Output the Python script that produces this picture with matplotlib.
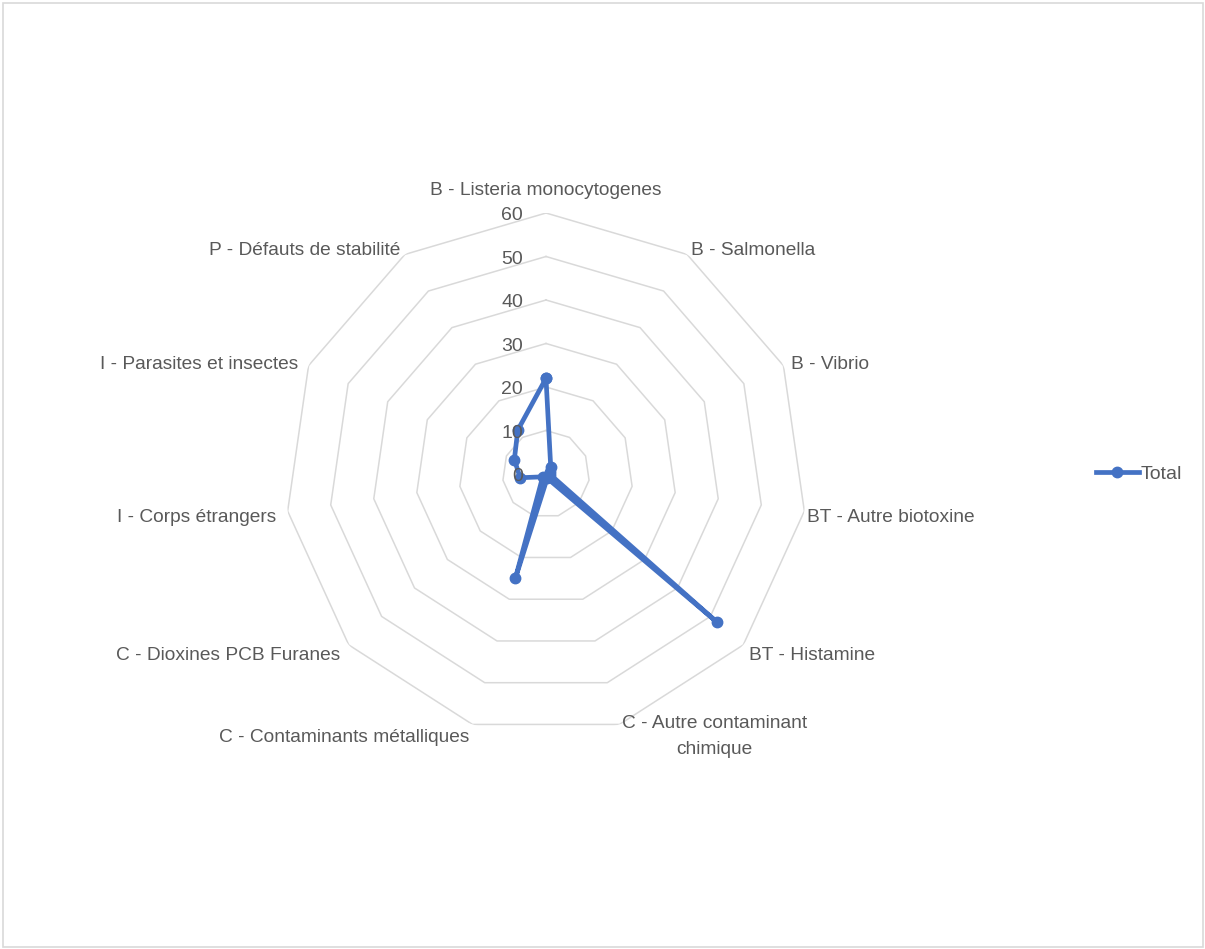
import numpy as np
import matplotlib
matplotlib.use("Agg")
import matplotlib.pyplot as plt
from matplotlib.patches import Rectangle

categories = [
    "B - Listeria monocytogenes",
    "B - Salmonella",
    "B - Vibrio",
    "BT - Autre biotoxine",
    "BT - Histamine",
    "C - Autre contaminant\nchimique",
    "C - Contaminants métalliques",
    "C - Dioxines PCB Furanes",
    "I - Corps étrangers",
    "I - Parasites et insectes",
    "P - Défauts de stabilité",
]
total = [22, 2, 1, 1, 52, 1, 25, 1, 6, 8, 12]
ring_values = [0, 10, 20, 30, 40, 50, 60]
series_name = "Total"

# label offsets (pixels) and alignment
label_offsets = [(0, 22), (4, 4), (8, 1), (3, -6), (6, -11), (2, -12),
                 (-3, -13), (-8, -11), (-11, -6), (-10, 1), (-5, 4)]
label_ha = ["center", "left", "left", "left", "left", "left",
            "right", "right", "right", "right", "right"]

plt.rcParams['font.family'] = ['Liberation Sans', 'DejaVu Sans']
text_color = "#595959"
grid_color = "#D9D9D9"
line_color = "#4472C4"

W, H = 1205, 949
fig = plt.figure(figsize=(W / 100, H / 100), dpi=100)
fig.patch.set_facecolor("white")
fig.patches.append(Rectangle((2.5 / W, 2.5 / H), (W - 5) / W, (H - 5) / H,
                             transform=fig.transFigure, fill=False,
                             edgecolor=grid_color, linewidth=1.2))

cx, cy, R = 546, 474, 261
ax = fig.add_axes([(cx - R) / W, (H - cy - R) / H, 2 * R / W, 2 * R / H],
                  projection="polar")
ax.set_theta_zero_location("N")
ax.set_theta_direction(-1)
ax.set_ylim(0, 60)
ax.grid(False)
ax.set_xticks([])
ax.set_yticks([])
ax.spines["polar"].set_visible(False)
ax.patch.set_alpha(0)

n = len(categories)
angles = np.arange(n) * 2 * np.pi / n
closed = np.append(angles, angles[0])

for rv in ring_values[1:]:
    ax.plot(closed, [rv] * (n + 1), color=grid_color, linewidth=1.1, zorder=1)

for rv in ring_values:
    ax.annotate(str(rv), xy=(0, rv), xytext=(-23, -3), textcoords="offset pixels",
                ha="right", va="center", fontsize=14, color=text_color,
                annotation_clip=False, zorder=5)

vals = np.append(total, total[0])
ax.plot(closed, vals, color=line_color, linewidth=3.4, marker="o",
        markersize=7.5, zorder=3, label=series_name, clip_on=False)

for i, lab in enumerate(categories):
    ax.annotate(lab, xy=(angles[i], 60), xytext=label_offsets[i],
                textcoords="offset pixels", ha=label_ha[i], va="center",
                multialignment="center", linespacing=1.65,
                fontsize=13.8, color=text_color, annotation_clip=False)

fig.legend(loc="center left", bbox_to_anchor=(1088 / W, 1 - 474 / H),
           frameon=False, fontsize=14, handlelength=2.2, handletextpad=0.1,
           labelcolor=text_color, borderaxespad=0)

fig.savefig("out.png", dpi=100, facecolor="white")
